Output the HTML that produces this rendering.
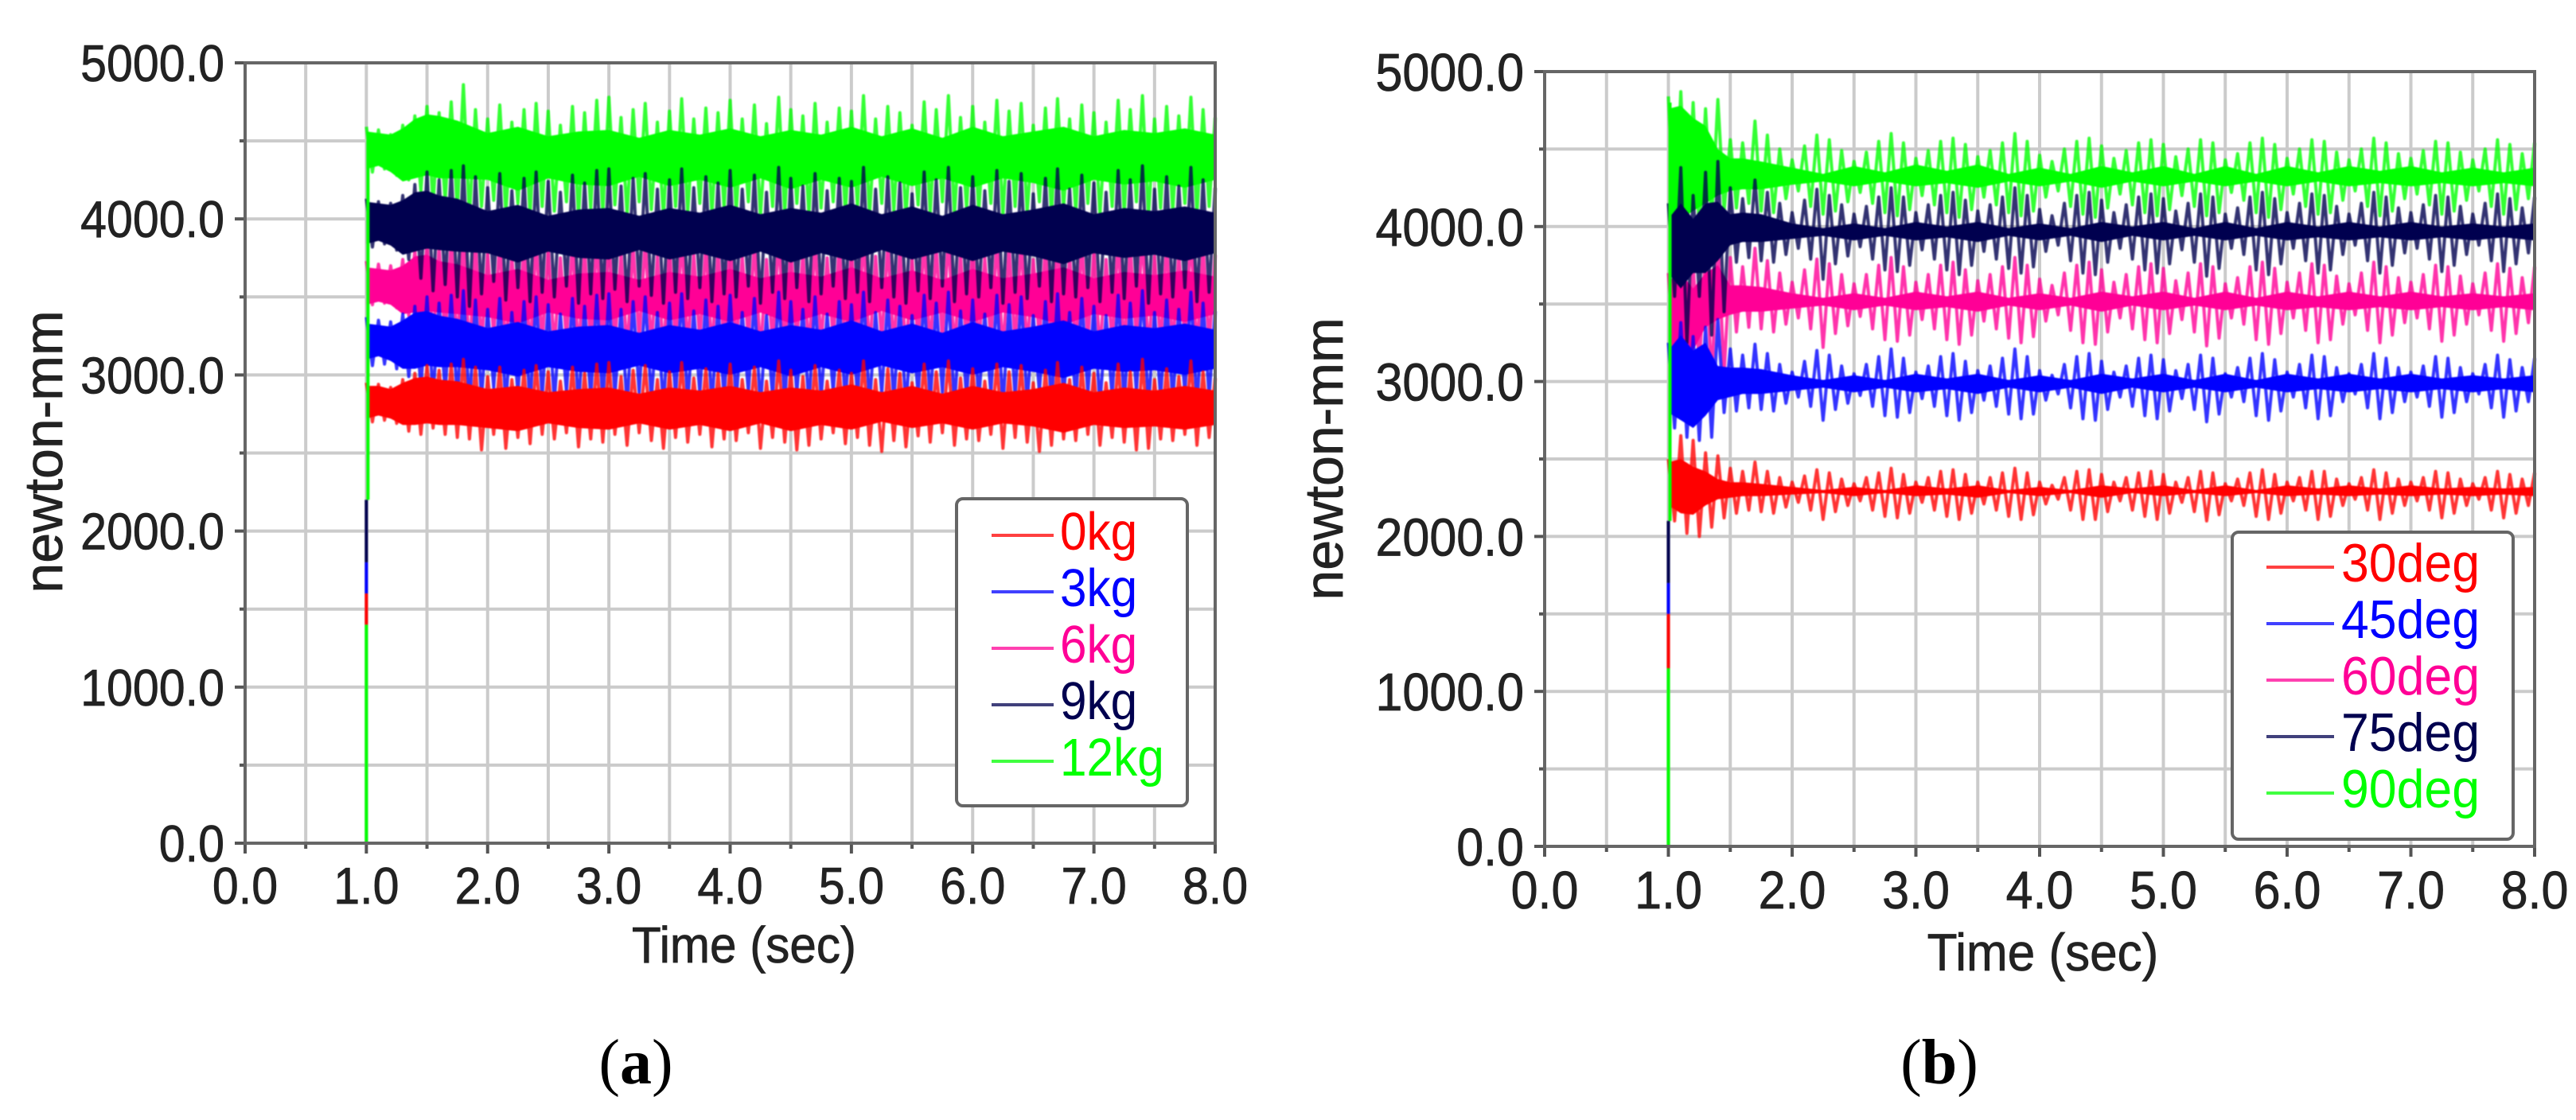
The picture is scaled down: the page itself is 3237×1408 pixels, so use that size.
<!DOCTYPE html>
<html lang="en">
<head>
<meta charset="utf-8">
<title>Torque versus time charts</title>
<style>
html,body{margin:0;padding:0;background:#fff;width:3237px;height:1408px;overflow:hidden}
svg{display:block}
text{font-family:"Liberation Sans",sans-serif}
</style>
</head>
<body>
<svg id="figure" xmlns="http://www.w3.org/2000/svg" width="3237" height="1408" viewBox="0 0 3237 1408">
<rect width="3237" height="1408" fill="#fff"/>
<text x="799" y="1362" text-anchor="middle" font-size="80" style="font-family:'Liberation Serif',serif">(<tspan font-weight="bold">a</tspan>)</text>
<text x="2437" y="1362" text-anchor="middle" font-size="80" style="font-family:'Liberation Serif',serif">(<tspan font-weight="bold">b</tspan>)</text>
</svg>
<script>
const xGridValues=[0,0.5,1,1.5,2,2.5,3,3.5,4,4.5,5,5.5,6,6.5,7,7.5,8];
const yGridValues=[0,500,1000,1500,2000,2500,3000,3500,4000,4500,5000];
const xTickValues=[0,1,2,3,4,5,6,7,8];
const xTickLabels=["0.0","1.0","2.0","3.0","4.0","5.0","6.0","7.0","8.0"];
const yTickValues=[0,1000,2000,3000,4000,5000];
const yTickLabels=["0.0","1000.0","2000.0","3000.0","4000.0","5000.0"];
const seriesColors=["#ff0000","#0000ff","#ff0096","#00004f","#00ff00"];
const legendA=["0kg","3kg","6kg","9kg","12kg"];
const legendB=["30deg","45deg","60deg","75deg","90deg"];
const sampleTimes=[
1.0,1.1,1.2,1.3,1.4,1.5,1.6,1.7,1.8,1.9,
2.0,2.1,2.2,2.3,2.4,2.5,2.6,2.7,2.8,2.9,
3.0,3.1,3.2,3.3,3.4,3.5,3.6,3.7,3.8,3.9,
4.0,4.1,4.2,4.3,4.4,4.5,4.6,4.7,4.8,4.9,
5.0,5.1,5.2,5.3,5.4,5.5,5.6,5.7,5.8,5.9,
6.0,6.1,6.2,6.3,6.4,6.5,6.6,6.7,6.8,6.9,
7.0,7.1,7.2,7.3,7.4,7.5,7.6,7.7,7.8,7.9,
8.0];
const coreTimes=[
1.0,1.1,1.2,1.3,1.4,1.5,1.6,
1.75,2.0,2.25,2.5,2.75,3.0,3.25,3.5,3.75,
4.0,4.25,4.5,4.75,5.0,5.25,5.5,5.75,
6.0,6.25,6.5,6.75,7.0,7.25,7.5,7.75,8.0];

/* Panel (a) peaks and troughs */
const a12Hi=[4590,4570,4540,4600,4660,4720,4680,4750,4860,4700,
4640,4730,4620,4700,4740,4690,4600,4720,4680,4760,
4780,4650,4700,4740,4620,4690,4770,4640,4710,4680,
4760,4640,4730,4610,4780,4700,4660,4740,4620,4710,
4690,4790,4640,4720,4680,4600,4750,4700,4790,4650,
4720,4620,4760,4690,4740,4600,4710,4770,4640,4730,
4680,4620,4760,4700,4790,4640,4720,4660,4780,4700,
4650];
const a12Lo=[4300,4320,4280,4250,4180,4100,4120,4060,4020,4080,
4120,4040,4100,4030,4080,4050,4110,4020,4070,4040,
4090,4030,4110,4060,4020,4080,4040,4100,4030,4070,
4050,4110,4020,4080,4040,4100,4030,4070,4110,4040,
4080,4030,4100,4050,4020,4090,4040,4110,4030,4070,
4050,4100,4020,4080,4040,4110,4030,4070,4050,4100,
4030,4080,4040,4110,4020,4070,4050,4100,4030,4080,
4040];
const a9Hi=[4130,4110,4100,4150,4220,4300,4250,4310,4340,4270,
4200,4290,4180,4260,4300,4240,4170,4280,4230,4310,
4320,4210,4260,4290,4190,4250,4320,4200,4270,4230,
4310,4190,4280,4170,4330,4260,4210,4290,4180,4260,
4240,4330,4190,4270,4230,4160,4300,4250,4330,4200,
4270,4180,4310,4240,4290,4160,4260,4320,4190,4280,
4230,4170,4310,4250,4340,4190,4270,4210,4330,4250,
4200];
const a9Lo=[3820,3840,3800,3740,3620,3540,3580,3500,3440,3520,
3600,3480,3560,3470,3530,3500,3570,3460,3520,3490,
3550,3470,3570,3510,3460,3530,3490,3560,3470,3520,
3500,3570,3460,3530,3490,3560,3470,3520,3570,3490,
3530,3470,3560,3500,3460,3540,3490,3570,3470,3520,
3500,3560,3460,3530,3490,3570,3470,3520,3500,3560,
3470,3530,3490,3570,3460,3520,3500,3560,3470,3530,
3490];
const a6Hi=[3730,3710,3700,3740,3800,3860,3820,3870,3900,3840,
3780,3850,3760,3830,3860,3810,3750,3850,3800,3870,
3880,3780,3830,3860,3760,3820,3880,3770,3840,3800,
3870,3760,3850,3740,3890,3830,3780,3860,3750,3830,
3810,3890,3760,3840,3800,3740,3870,3820,3890,3770,
3840,3750,3870,3810,3860,3740,3830,3880,3760,3850,
3800,3740,3870,3820,3900,3760,3840,3780,3890,3820,
3770];
const a6Lo=[3450,3460,3430,3380,3280,3210,3240,3170,3120,3190,
3260,3150,3220,3140,3200,3170,3230,3130,3190,3160,
3210,3140,3230,3180,3130,3200,3160,3220,3140,3190,
3170,3230,3130,3200,3160,3220,3140,3190,3230,3160,
3200,3140,3220,3170,3130,3210,3160,3230,3140,3190,
3170,3220,3130,3200,3160,3230,3140,3190,3170,3220,
3140,3200,3160,3230,3130,3190,3170,3220,3140,3200,
3160];
const a3Hi=[3370,3350,3340,3390,3440,3500,3460,3510,3540,3480,
3420,3490,3400,3470,3500,3450,3390,3490,3440,3510,
3520,3420,3470,3500,3400,3460,3520,3410,3480,3440,
3510,3400,3490,3380,3530,3470,3420,3500,3390,3470,
3450,3530,3400,3480,3440,3380,3510,3460,3530,3410,
3480,3390,3510,3450,3500,3380,3470,3520,3400,3490,
3440,3380,3510,3460,3540,3400,3480,3420,3530,3460,
3410];
const a3Lo=[3060,3070,3040,2990,2920,2860,2890,2840,2790,2850,
2920,2810,2880,2800,2860,2830,2890,2790,2850,2820,
2870,2800,2890,2840,2790,2860,2820,2880,2800,2850,
2830,2890,2790,2860,2820,2880,2800,2850,2890,2820,
2860,2800,2880,2830,2790,2870,2820,2890,2800,2850,
2830,2880,2790,2860,2820,2890,2800,2850,2830,2880,
2800,2860,2820,2890,2790,2850,2830,2880,2800,2860,
2820];
const a0Hi=[2950,2940,2920,2970,3010,3060,3030,3070,3100,3050,
2990,3050,2970,3030,3060,3020,2960,3050,3010,3070,
3080,2990,3030,3060,2970,3020,3080,2980,3040,3010,
3070,2970,3050,2960,3090,3030,2990,3060,2960,3030,
3010,3090,2970,3040,3010,2950,3070,3020,3090,2980,
3040,2960,3070,3020,3060,2950,3030,3080,2970,3050,
3010,2950,3070,3020,3100,2970,3040,2990,3090,3020,
2980];
const a0Lo=[2700,2710,2690,2640,2620,2660,2620,2600,2590,2520,
2620,2530,2600,2560,2620,2590,2630,2540,2590,2570,
2620,2550,2630,2580,2530,2600,2570,2620,2540,2590,
2580,2630,2530,2600,2570,2520,2550,2590,2630,2560,
2600,2550,2510,2580,2540,2610,2570,2630,2550,2590,
2580,2620,2530,2600,2570,2510,2550,2590,2580,2620,
2550,2600,2570,2520,2530,2590,2580,2620,2550,2600,
2570];

/* Panel (a) dense core band */
const a12CoreHi=[4560,4550,4540,4580,4640,4670,4660,
4630,4550,4590,4530,4560,4570,4520,4570,4540,
4580,4530,4570,4540,4590,4530,4580,4520,
4590,4530,4560,4590,4530,4570,4550,4580,4540];
const a12CoreLo=[4320,4340,4300,4240,4260,4280,4260,
4260,4250,4180,4260,4220,4210,4270,4210,4250,
4200,4260,4190,4250,4200,4270,4210,4260,
4200,4260,4230,4180,4250,4220,4240,4200,4250];
const a9CoreHi=[4110,4100,4090,4120,4170,4180,4150,
4130,4050,4090,4020,4060,4070,4020,4070,4040,
4090,4030,4070,4040,4100,4030,4080,4020,
4090,4030,4060,4100,4030,4070,4050,4080,4040];
const a9CoreLo=[3840,3860,3830,3770,3790,3810,3800,
3790,3780,3720,3790,3750,3740,3800,3740,3780,
3730,3790,3720,3780,3730,3800,3740,3790,
3730,3790,3760,3710,3780,3750,3770,3730,3780];
const a6CoreHi=[3690,3680,3670,3700,3760,3770,3730,
3710,3640,3680,3610,3650,3660,3610,3660,3630,
3680,3620,3660,3630,3690,3620,3670,3610,
3680,3620,3650,3690,3620,3660,3640,3670,3630];
const a6CoreLo=[3450,3470,3450,3390,3400,3410,3400,
3390,3370,3330,3400,3360,3350,3410,3350,3390,
3340,3400,3330,3390,3340,3410,3350,3400,
3340,3400,3370,3320,3390,3360,3380,3340,3390];
const a3CoreHi=[3330,3320,3310,3350,3400,3410,3380,
3360,3300,3340,3280,3310,3320,3270,3320,3290,
3340,3280,3320,3290,3350,3280,3330,3270,
3340,3280,3310,3350,3280,3320,3300,3330,3290];
const a3CoreLo=[3100,3120,3090,3040,3040,3060,3050,
3050,3030,2990,3050,3020,3010,3060,3010,3040,
3000,3050,2990,3050,3000,3060,3010,3050,
3000,3050,3020,2980,3040,3020,3030,3000,3040];
const a0CoreHi=[2930,2930,2910,2950,2980,2990,2970,
2960,2910,2930,2890,2910,2920,2880,2920,2900,
2930,2890,2920,2900,2940,2890,2930,2880,
2930,2890,2910,2950,2890,2920,2900,2930,2900];
const a0CoreLo=[2720,2740,2720,2680,2680,2690,2680,
2680,2660,2640,2690,2660,2650,2690,2650,2680,
2640,2690,2640,2680,2650,2700,2660,2690,
2650,2690,2670,2630,2680,2660,2670,2650,2680];

/* Panel (b) peaks and troughs */
const b90Hi=[4840,4870,4800,4760,4820,4560,4540,4680,4590,4500,
4430,4520,4590,4560,4490,4420,4480,4550,4600,4540,
4440,4490,4550,4570,4530,4450,4490,4540,4600,4550,
4460,4420,4500,4550,4570,4520,4440,4490,4540,4560,
4530,4450,4500,4560,4540,4430,4470,4540,4570,4530,
4440,4500,4560,4550,4480,4430,4500,4570,4540,4470,
4440,4490,4550,4540,4480,4430,4500,4560,4530,4470,
4540];
const b90Lo=[4000,3950,3980,4050,4100,4120,4150,4100,4090,4180,
4230,4130,4080,4100,4160,4220,4150,4090,4070,4110,
4200,4140,4090,4060,4110,4190,4140,4090,4070,4100,
4190,4230,4130,4080,4060,4120,4210,4140,4090,4070,
4110,4200,4130,4070,4090,4220,4170,4090,4060,4110,
4210,4130,4080,4090,4170,4230,4130,4070,4100,4180,
4210,4140,4080,4100,4170,4230,4130,4080,4110,4180,
4100];
const b75Hi=[4150,4380,4200,4350,4420,4250,4180,4300,4220,4150,
4090,4170,4240,4200,4140,4080,4130,4190,4250,4190,
4090,4140,4200,4220,4170,4100,4140,4190,4250,4200,
4110,4070,4150,4200,4220,4170,4090,4140,4190,4210,
4180,4100,4150,4210,4190,4080,4120,4190,4220,4180,
4090,4150,4210,4200,4130,4080,4150,4220,4190,4120,
4090,4140,4200,4190,4130,4080,4150,4210,4180,4120,
4190];
const b75Lo=[3550,3250,3550,3300,3450,3770,3800,3780,3770,3820,
3860,3790,3660,3760,3810,3870,3790,3720,3710,3750,
3850,3790,3720,3690,3750,3840,3790,3730,3700,3740,
3840,3880,3780,3700,3690,3770,3860,3790,3720,3700,
3760,3850,3770,3680,3730,3860,3820,3720,3690,3760,
3860,3780,3700,3720,3820,3880,3780,3700,3750,3830,
3860,3790,3710,3750,3820,3880,3780,3710,3760,3830,
3750];
const b60Hi=[3700,3880,3750,3850,3920,3800,3740,3860,3780,3700,
3640,3720,3790,3760,3690,3630,3690,3750,3800,3740,
3640,3690,3750,3770,3720,3650,3690,3740,3800,3750,
3660,3620,3700,3750,3770,3720,3640,3690,3740,3760,
3730,3650,3700,3760,3740,3630,3670,3740,3770,3730,
3640,3700,3760,3750,3680,3630,3700,3770,3740,3670,
3640,3690,3750,3740,3680,3630,3700,3760,3730,3670,
3740];
const b60Lo=[3150,2950,3100,3000,3050,3320,3350,3340,3320,3370,
3410,3340,3220,3310,3360,3420,3340,3270,3260,3300,
3400,3340,3270,3240,3300,3390,3340,3280,3250,3290,
3390,3430,3330,3250,3240,3320,3410,3340,3270,3250,
3310,3400,3320,3230,3280,3410,3370,3270,3240,3310,
3410,3330,3250,3270,3370,3430,3330,3250,3300,3380,
3410,3340,3260,3300,3370,3430,3330,3260,3310,3380,
3300];
const b45Hi=[3250,3380,3290,3350,3400,3210,3170,3240,3180,3110,
3060,3130,3200,3170,3100,3050,3110,3160,3210,3150,
3060,3100,3160,3180,3130,3070,3100,3150,3210,3160,
3070,3040,3110,3160,3180,3130,3060,3100,3150,3170,
3140,3070,3110,3170,3150,3050,3090,3150,3180,3140,
3060,3110,3170,3160,3090,3050,3110,3180,3150,3090,
3060,3100,3160,3150,3090,3050,3110,3170,3140,3090,
3150];
const b45Lo=[2700,2640,2620,2640,2800,2810,2830,2820,2810,2860,
2900,2840,2750,2820,2860,2910,2840,2780,2770,2800,
2890,2840,2780,2750,2800,2880,2840,2790,2760,2790,
2880,2920,2830,2760,2750,2820,2900,2840,2780,2760,
2810,2890,2820,2740,2790,2900,2870,2780,2750,2810,
2900,2830,2760,2780,2870,2920,2830,2760,2800,2870,
2900,2840,2770,2800,2870,2920,2830,2770,2810,2870,
2800];
const b30Hi=[2500,2650,2620,2540,2520,2440,2420,2480,2420,2380,
2350,2390,2430,2410,2370,2340,2380,2410,2440,2400,
2350,2380,2420,2430,2400,2350,2380,2410,2440,2410,
2350,2330,2380,2420,2430,2400,2350,2380,2410,2420,
2400,2350,2380,2420,2410,2340,2370,2410,2430,2400,
2350,2380,2420,2420,2370,2340,2380,2430,2410,2370,
2350,2380,2420,2410,2370,2340,2380,2420,2400,2370,
2410];
const b30Lo=[2100,2020,2000,2060,2120,2150,2170,2160,2150,2190,
2220,2170,2110,2160,2200,2230,2170,2130,2120,2150,
2220,2170,2130,2110,2150,2210,2170,2130,2110,2140,
2210,2240,2170,2110,2110,2160,2230,2170,2130,2110,
2150,2220,2160,2100,2140,2230,2200,2130,2110,2150,
2230,2170,2110,2130,2200,2240,2170,2110,2150,2200,
2230,2170,2120,2150,2200,2240,2170,2120,2150,2200,
2150];

/* Panel (b) dense core band */
const b90CoreHi=[4760,4780,4700,4650,4500,4440,4440,
4420,4380,4340,4390,4350,4400,4360,4400,4340,
4380,4340,4390,4350,4390,4340,4390,4340,
4390,4350,4390,4360,4390,4350,4380,4350,4380];
const b90CoreLo=[4000,4050,4100,4150,4200,4230,4240,
4240,4270,4290,4260,4290,4260,4280,4250,4290,
4260,4290,4250,4290,4260,4290,4260,4290,
4260,4290,4260,4280,4260,4280,4260,4280,4260];
const b75CoreHi=[4050,4150,4050,4150,4160,4080,4090,
4080,4020,3990,4020,3990,4030,4000,4030,3990,
4020,3990,4030,4000,4030,3990,4030,3990,
4030,4000,4030,4000,4030,4000,4020,4000,4020];
const b75CoreLo=[3700,3600,3700,3700,3780,3880,3900,
3900,3920,3940,3910,3940,3910,3930,3900,3940,
3910,3940,3900,3940,3910,3940,3910,3940,
3910,3930,3910,3930,3910,3930,3910,3930,3910];
const b60CoreHi=[3650,3700,3600,3700,3750,3620,3620,
3610,3570,3540,3570,3540,3580,3550,3580,3540,
3570,3540,3580,3550,3580,3540,3580,3540,
3580,3550,3580,3550,3580,3550,3570,3550,3570];
const b60CoreLo=[3200,3100,3200,3350,3400,3430,3450,
3450,3470,3490,3460,3490,3460,3480,3450,3490,
3460,3490,3450,3490,3460,3490,3460,3490,
3460,3480,3460,3480,3460,3480,3460,3480,3460];
const b45CoreHi=[3200,3300,3200,3250,3100,3090,3090,
3080,3040,3010,3040,3010,3050,3020,3050,3010,
3040,3010,3050,3020,3050,3010,3050,3010,
3050,3020,3050,3020,3050,3020,3040,3020,3040];
const b45CoreLo=[2800,2750,2700,2780,2880,2900,2920,
2920,2940,2960,2930,2960,2930,2950,2920,2960,
2930,2960,2920,2960,2930,2960,2930,2960,
2930,2950,2930,2950,2930,2950,2930,2950,2930];
const b30CoreHi=[2480,2500,2450,2420,2370,2350,2350,
2340,2320,2300,2320,2300,2330,2310,2330,2300,
2320,2300,2330,2310,2330,2300,2330,2300,
2330,2310,2330,2310,2330,2310,2320,2310,2320];
const b30CoreLo=[2200,2150,2140,2200,2240,2250,2260,
2260,2270,2280,2260,2280,2260,2270,2250,2280,
2260,2280,2250,2280,2260,2280,2260,2280,
2260,2270,2260,2270,2260,2270,2260,2270,2260];

/* Start-up rise drawn at t = 1 s: [from, to] newton-mm for each series */
const riseA=[[1400,1600],[1600,1800],[0,0],[1800,2200],[0,1400]];
const riseAUpper=[2200,4500];
const riseB=[[1150,1500],[1500,1700],[0,0],[1700,2100],[0,1150]];
const riseBUpper=[2100,4800];
const drawOrder=[4,2,3,1,0];

const svgNS="http://www.w3.org/2000/svg";
const figure=document.getElementById("figure");

function squeeze(el,ratio){
  el.setAttribute("textLength",(el.getComputedTextLength()*ratio).toFixed(1));
  el.setAttribute("lengthAdjust","spacingAndGlyphs");
}

function drawPanel(box,prefix,series,legend,rise,riseUpper,style){
  const xScale=function(t){return box.left+(t/8)*(box.right-box.left);};
  const yScale=function(v){return box.bottom-(v/5000)*(box.bottom-box.top);};
  const panel=document.createElementNS(svgNS,"g");
  
  
  figure.appendChild(panel);

  xGridValues.forEach(function(v){
    const el=document.createElementNS(svgNS,"line");
    
    
    el.setAttribute("x1",xScale(v));el.setAttribute("x2",xScale(v));
    el.setAttribute("y1",box.top);el.setAttribute("y2",box.bottom);
    el.setAttribute("stroke","#cbcbcb");el.setAttribute("stroke-width","4");
    panel.appendChild(el);
    const tick=document.createElementNS(svgNS,"line");
    
    
    tick.setAttribute("x1",xScale(v));tick.setAttribute("x2",xScale(v));
    tick.setAttribute("y1",box.bottom);tick.setAttribute("y2",box.bottom+(v%1===0?13:7));
    tick.setAttribute("stroke","#555");tick.setAttribute("stroke-width","4");
    panel.appendChild(tick);
  });
  yGridValues.forEach(function(v){
    const el=document.createElementNS(svgNS,"line");
    
    
    el.setAttribute("x1",box.left);el.setAttribute("x2",box.right);
    el.setAttribute("y1",yScale(v));el.setAttribute("y2",yScale(v));
    el.setAttribute("stroke","#cbcbcb");el.setAttribute("stroke-width","4");
    panel.appendChild(el);
    const tick=document.createElementNS(svgNS,"line");
    
    
    tick.setAttribute("x1",box.left-(v%1000===0?13:7));tick.setAttribute("x2",box.left);
    tick.setAttribute("y1",yScale(v));tick.setAttribute("y2",yScale(v));
    tick.setAttribute("stroke","#555");tick.setAttribute("stroke-width","4");
    panel.appendChild(tick);
  });

  const marks=document.createElementNS(svgNS,"g");
  
  
  marks.setAttribute("style","filter:blur(0.9px)");
  panel.appendChild(marks);

  drawOrder.forEach(function(s){
    const d=series[s];
    const color=seriesColors[s];
    let wave="";
    sampleTimes.forEach(function(t,i){
      if(d.hi[i]===undefined)return;
      wave+=(i?"L":"M")+xScale(t).toFixed(1)+" "+yScale(d.hi[i]).toFixed(1);
      if(i<sampleTimes.length-1&&d.lo[i]!==undefined){
        const troughTime=(t+sampleTimes[i+1])/2;
        wave+="L"+xScale(troughTime).toFixed(1)+" "+yScale(d.lo[i]).toFixed(1);
      }
    });
    const line=document.createElementNS(svgNS,"path");
    
    
    line.setAttribute("d",wave);
    line.setAttribute("fill","none");
    line.setAttribute("stroke",color);
    line.setAttribute("stroke-width",style.stroke);
    line.setAttribute("stroke-opacity","0.8");
    line.setAttribute("stroke-linejoin","round");
    marks.appendChild(line);

    let upper="";
    let lower="";
    coreTimes.forEach(function(t,i){
      upper+=(i?"L":"M")+xScale(t).toFixed(1)+" "+yScale(d.coreHi[i]).toFixed(1);
    });
    for(let i=coreTimes.length-1;i>=0;i--){
      lower+="L"+xScale(coreTimes[i]).toFixed(1)+" "+yScale(d.coreLo[i]).toFixed(1);
    }
    const core=document.createElementNS(svgNS,"path");
    
    
    core.setAttribute("d",upper+lower+"Z");
    core.setAttribute("fill",color);
    marks.appendChild(core);
  });

  for(let s=0;s<series.length;s++){
    if(rise[s][0]===rise[s][1])continue;
    const el=document.createElementNS(svgNS,"line");
    
    
    el.setAttribute("x1",xScale(1));el.setAttribute("x2",xScale(1));
    el.setAttribute("y1",yScale(rise[s][0]));el.setAttribute("y2",yScale(rise[s][1]));
    el.setAttribute("stroke",seriesColors[s]);el.setAttribute("stroke-width","4");
    marks.appendChild(el);
  }
  const riseTop=document.createElementNS(svgNS,"line");
  
  
  riseTop.setAttribute("x1",xScale(1)+2);riseTop.setAttribute("x2",xScale(1)+2);
  riseTop.setAttribute("y1",yScale(riseUpper[0]));riseTop.setAttribute("y2",yScale(riseUpper[1]));
  riseTop.setAttribute("stroke",seriesColors[4]);riseTop.setAttribute("stroke-width","4");
  marks.appendChild(riseTop);

  const frame=document.createElementNS(svgNS,"rect");
  
  
  frame.setAttribute("x",box.left);frame.setAttribute("y",box.top);
  frame.setAttribute("width",box.right-box.left);frame.setAttribute("height",box.bottom-box.top);
  frame.setAttribute("fill","none");frame.setAttribute("stroke","#666");frame.setAttribute("stroke-width","4");
  panel.appendChild(frame);

  xTickValues.forEach(function(v,i){
    const el=document.createElementNS(svgNS,"text");
    
    
    el.setAttribute("x",xScale(v));el.setAttribute("y",box.bottom+style.xLabelDrop);
    el.setAttribute("text-anchor","middle");el.setAttribute("font-size",style.tickFont);
    el.setAttribute("fill","#222");el.setAttribute("stroke","#222");el.setAttribute("stroke-width","0.8");
    el.textContent=xTickLabels[i];
    panel.appendChild(el);
    squeeze(el,style.tickSqueeze);
  });
  yTickValues.forEach(function(v,i){
    const el=document.createElementNS(svgNS,"text");
    
    
    el.setAttribute("x",box.left-style.yLabelGap);el.setAttribute("y",yScale(v)+style.yLabelDrop);
    el.setAttribute("text-anchor","end");el.setAttribute("font-size",style.tickFont);
    el.setAttribute("fill","#222");el.setAttribute("stroke","#222");el.setAttribute("stroke-width","0.8");
    el.textContent=yTickLabels[i];
    panel.appendChild(el);
    squeeze(el,style.tickSqueeze);
  });

  const xTitle=document.createElementNS(svgNS,"text");
  
  
  xTitle.setAttribute("x",style.xTitleX);xTitle.setAttribute("y",style.xTitleY);
  xTitle.setAttribute("text-anchor","middle");xTitle.setAttribute("font-size",style.titleFont);
  xTitle.setAttribute("fill","#222");xTitle.setAttribute("stroke","#222");xTitle.setAttribute("stroke-width","0.8");
  xTitle.textContent="Time (sec)";
  panel.appendChild(xTitle);
  squeeze(xTitle,0.94);

  const yTitle=document.createElementNS(svgNS,"text");
  
  
  yTitle.setAttribute("transform","translate("+style.yTitleX+" "+style.yTitleY+") rotate(-90)");
  yTitle.setAttribute("text-anchor","middle");yTitle.setAttribute("font-size",style.yTitleFont);
  yTitle.setAttribute("fill","#222");yTitle.setAttribute("stroke","#222");yTitle.setAttribute("stroke-width","0.8");
  yTitle.textContent="newton-mm";
  panel.appendChild(yTitle);

  const legendGroup=document.createElementNS(svgNS,"g");
  
  
  panel.appendChild(legendGroup);
  const legendBox=document.createElementNS(svgNS,"rect");
  
  
  legendBox.setAttribute("x",style.legend.x);legendBox.setAttribute("y",style.legend.y);
  legendBox.setAttribute("width",style.legend.w);legendBox.setAttribute("height",style.legend.h);
  legendBox.setAttribute("rx","8");
  legendBox.setAttribute("fill","#fff");legendBox.setAttribute("stroke","#666");legendBox.setAttribute("stroke-width","4");
  legendGroup.appendChild(legendBox);
  legend.forEach(function(name,i){
    const rowY=style.legend.firstLine+i*style.legend.step;
    const swatch=document.createElementNS(svgNS,"line");
    
    
    swatch.setAttribute("x1",style.legend.lineX1);swatch.setAttribute("x2",style.legend.lineX2);
    swatch.setAttribute("y1",rowY);swatch.setAttribute("y2",rowY);
    swatch.setAttribute("stroke",seriesColors[i]);swatch.setAttribute("stroke-width","4");
    swatch.setAttribute("stroke-opacity","0.75");
    legendGroup.appendChild(swatch);
    const label=document.createElementNS(svgNS,"text");
    
    
    label.setAttribute("x",style.legend.textX);label.setAttribute("y",rowY+18);
    label.setAttribute("font-size",style.legend.font);
    label.setAttribute("fill",seriesColors[i]);
    label.textContent=name;
    legendGroup.appendChild(label);
    squeeze(label,style.legend.squeeze);
  });
}

const seriesA=[
 {hi:a0Hi,lo:a0Lo,coreHi:a0CoreHi,coreLo:a0CoreLo},
 {hi:a3Hi,lo:a3Lo,coreHi:a3CoreHi,coreLo:a3CoreLo},
 {hi:a6Hi,lo:a6Lo,coreHi:a6CoreHi,coreLo:a6CoreLo},
 {hi:a9Hi,lo:a9Lo,coreHi:a9CoreHi,coreLo:a9CoreLo},
 {hi:a12Hi,lo:a12Lo,coreHi:a12CoreHi,coreLo:a12CoreLo}];
const seriesB=[
 {hi:b30Hi,lo:b30Lo,coreHi:b30CoreHi,coreLo:b30CoreLo},
 {hi:b45Hi,lo:b45Lo,coreHi:b45CoreHi,coreLo:b45CoreLo},
 {hi:b60Hi,lo:b60Lo,coreHi:b60CoreHi,coreLo:b60CoreLo},
 {hi:b75Hi,lo:b75Lo,coreHi:b75CoreHi,coreLo:b75CoreLo},
 {hi:b90Hi,lo:b90Lo,coreHi:b90CoreHi,coreLo:b90CoreLo}];

drawPanel({left:308,right:1527,top:79,bottom:1060},"panel-a",seriesA,legendA,riseA,riseAUpper,{
  stroke:4,tickFont:65,tickSqueeze:0.91,xLabelDrop:76,yLabelGap:26,yLabelDrop:23,
  xTitleX:935,xTitleY:1210,titleFont:64,yTitleX:78,yTitleY:568,yTitleFont:68,
  legend:{x:1202,y:627,w:290,h:386,firstLine:673,step:71,lineX1:1246,lineX2:1324,textX:1332,font:67,squeeze:0.9}
});
drawPanel({left:1941,right:3185,top:90,bottom:1064},"panel-b",seriesB,legendB,riseB,riseBUpper,{
  stroke:4,tickFont:67,tickSqueeze:0.91,xLabelDrop:78,yLabelGap:26,yLabelDrop:24,
  xTitleX:2567,xTitleY:1220,titleFont:66,yTitleX:1687,yTitleY:577,yTitleFont:68,
  legend:{x:2805,y:669,w:353,h:386,firstLine:713,step:71,lineX1:2848,lineX2:2933,textX:2942,font:68,squeeze:0.92}
});
</script>
</body>
</html>
